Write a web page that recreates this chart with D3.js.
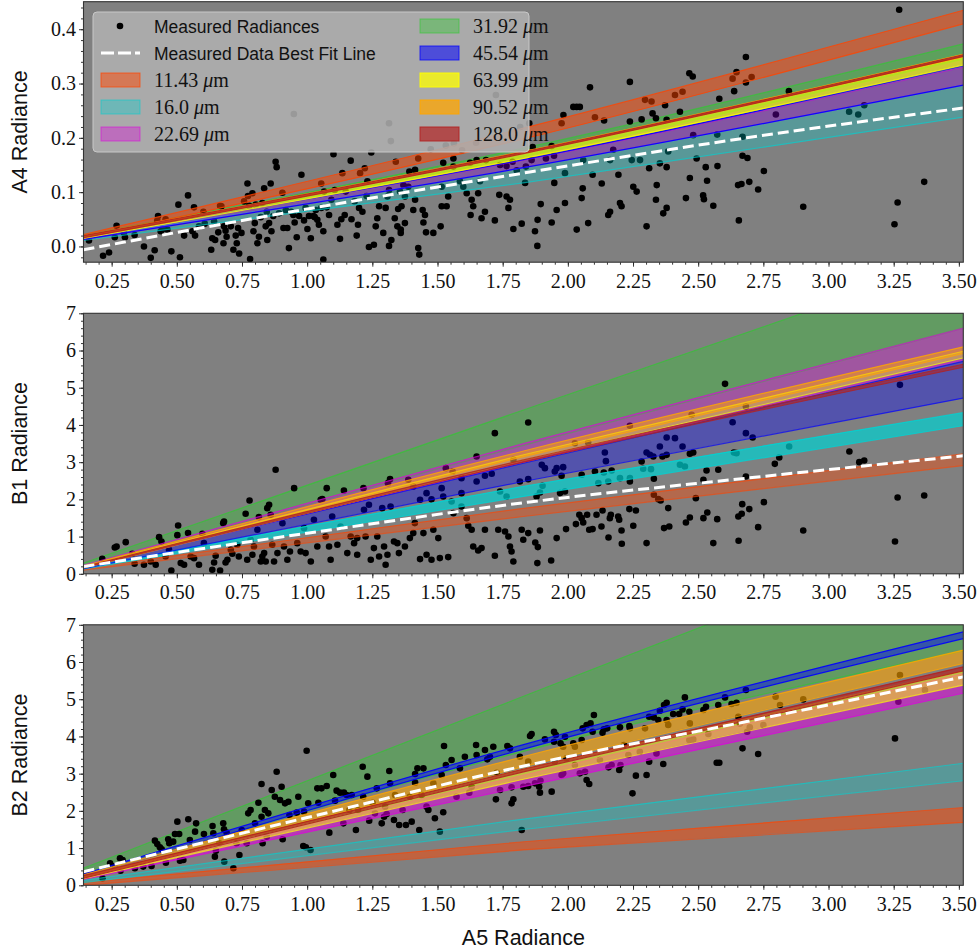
<!DOCTYPE html>
<html>
<head>
<meta charset="utf-8">
<script src="https://cdn.jsdelivr.net/npm/d3@7"></script>
<style>
  body { margin: 0; background: #fff; }
</style>
</head>
<body>
<div id="chart"></div>
<script>
'use strict';

// ---------------- data ----------------
var wavelengths = ['11.43', '16.0', '22.69', '31.92', '45.54', '63.99', '90.52', '128.0'];

// x (A5 radiance) at which the band edges were read: left limit, middle, right limit
var bandX = [0.142, 1.83, 3.517];
// each band: [[lo, hi] at bandX[0], [lo, hi] at bandX[1], [lo, hi] at bandX[2]]
var a4Bands = [
  [[0.016, 0.022], [0.198, 0.218], [0.410, 0.435]],
  [[0.011, 0.016], [0.117, 0.145], [0.238, 0.297]],
  [[0.013, 0.018], [0.145, 0.159], [0.297, 0.330]],
  [[0.016, 0.021], [0.166, 0.181], [0.345, 0.373]],
  [[0.013, 0.018], [0.145, 0.160], [0.297, 0.333]],
  [[0.015, 0.019], [0.162, 0.172], [0.334, 0.349]],
  [[0.016, 0.020], [0.172, 0.175], [0.349, 0.354]],
  [[0.016, 0.020], [0.171, 0.174], [0.350, 0.353]]
];
var b1Bands = [
  [[0.10, 0.15], [1.54, 1.76], [2.91, 3.22]],
  [[0.13, 0.17], [2.08, 2.35], [3.98, 4.33]],
  [[0.17, 0.23], [3.00, 3.50], [5.75, 6.60]],
  [[0.20, 0.29], [3.45, 4.40], [6.60, 8.50]],
  [[0.14, 0.20], [2.48, 2.97], [4.72, 5.71]],
  [[0.16, 0.20], [3.05, 3.20], [5.80, 5.98]],
  [[0.17, 0.21], [3.15, 3.30], [5.92, 6.10]],
  [[0.16, 0.19], [3.00, 3.06], [5.55, 5.63]]
];
var b2Bands = [
  [[0.00, 0.07], [0.95, 1.17], [1.69, 2.09]],
  [[0.07, 0.13], [1.50, 1.78], [2.81, 3.28]],
  [[0.16, 0.22], [2.65, 2.96], [5.16, 5.69]],
  [[0.20, 0.46], [3.60, 5.08], [6.30, 9.69]],
  [[0.20, 0.30], [3.66, 3.78], [6.63, 6.81]],
  [[0.18, 0.24], [2.85, 3.12], [5.38, 5.76]],
  [[0.20, 0.28], [3.19, 3.46], [5.96, 6.32]],
  [[0.19, 0.26], [3.05, 3.12], [5.76, 5.87]]
];

// measured data best fit line, read at these x
var fitX = [0.142, 1.0, 1.854, 2.686, 3.517];
var a4Fit = [-0.006, 0.069, 0.137, 0.200, 0.255];
var b1Fit = [0.196, 1.09, 1.93, 2.57, 3.17];
var b2Fit = [0.365, 1.82, 3.24, 4.40, 5.60];

// measured radiances [A5, A4]
var a4Points = [
  [0.163,0.011],[0.217,-0.017],[0.240,-0.011],[0.269,0.038],[0.262,0.017],[0.297,0.025],[0.301,0.017],[0.338,0.021],
  [0.374,0.000],[0.400,-0.021],[0.415,-0.007],[0.428,0.056],[0.425,0.048],[0.457,0.050],[0.444,0.031],[0.438,0.028],
  [0.464,0.031],[0.479,-0.009],[0.506,0.077],[0.512,-0.020],[0.528,0.020],[0.543,0.094],[0.560,0.028],[0.566,0.072],
  [0.570,0.020],[0.585,0.037],[0.602,0.064],[0.607,0.042],[0.632,-0.006],[0.636,0.015],[0.643,0.046],[0.647,0.012],
  [0.659,0.026],[0.666,0.075],[0.671,0.074],[0.681,0.037],[0.679,0.006],[0.687,0.029],[0.691,0.018],[0.707,0.037],
  [0.717,-0.006],[0.726,0.020],[0.730,0.006],[0.735,0.034],[0.739,-0.013],[0.748,0.025],[0.758,0.083],[0.771,0.116],
  [0.773,0.093],[0.778,0.075],[0.781,-0.023],[0.790,0.098],[0.794,0.028],[0.799,0.043],[0.803,0.077],[0.809,0.006],
  [0.815,0.018],[0.822,0.054],[0.828,0.080],[0.835,0.107],[0.841,0.037],[0.845,0.064],[0.847,0.012],[0.854,0.043],
  [0.860,0.116],[0.863,0.028],[0.870,0.056],[0.879,0.156],[0.883,0.146],[0.892,0.061],[0.905,0.099],[0.909,0.034],
  [0.918,0.067],[0.924,0.034],[0.930,-0.003],[0.939,0.064],[0.947,0.058],[0.952,0.044],[0.960,0.017],[0.969,0.056],
  [0.978,0.132],[0.988,0.048],[0.994,0.071],[1.001,0.032],[1.007,0.056],[1.014,0.015],[1.024,0.056],[1.029,0.054],
  [1.033,0.067],[1.039,0.049],[1.045,0.040],[1.054,0.116],[1.054,0.071],[1.062,-0.024],[1.062,0.028],[1.065,0.101],
  [1.075,0.072],[1.084,0.058],[1.093,0.086],[1.101,0.170],[1.106,0.104],[1.116,0.040],[1.126,0.014],[1.131,0.050],
  [1.135,0.135],[1.144,0.058],[1.148,0.101],[1.167,0.158],[1.170,0.050],[1.182,0.083],[1.190,0.020],[1.195,0.040],
  [1.199,0.071],[1.203,0.135],[1.212,0.064],[1.221,0.144],[1.228,0.093],[1.231,0.120],[1.237,-0.001],[1.246,0.173],
  [1.256,0.003],[1.263,0.037],[1.269,0.052],[1.276,0.074],[1.292,0.025],[1.301,0.071],[1.308,0.092],[1.314,0.104],
  [1.314,0.001],[1.323,0.012],[1.336,0.052],[1.340,0.156],[1.346,0.037],[1.349,0.069],[1.356,0.101],[1.359,0.025],
  [0.949,0.244],[1.314,0.227],[1.321,0.194],[1.648,0.191],[1.817,0.220],
  [1.426,0.162],[1.392,0.138],[1.414,0.141],[1.369,0.113],[1.388,0.110],[1.375,0.092],[1.362,0.074],[1.414,0.086],
  [1.407,0.067],[1.443,0.067],[1.452,0.058],[1.446,0.044],[1.375,0.043],[1.359,0.031],[1.456,0.026],[1.484,0.025],
  [1.512,0.037],[1.426,-0.003],[1.430,-0.015],[1.522,0.154],[1.561,0.162],[1.561,0.147],[1.625,0.154],[1.650,0.159],
  [1.686,0.159],[1.740,0.150],[1.765,0.148],[1.788,0.156],[1.804,0.140],[1.836,0.117],[1.839,0.147],[1.861,0.159],
  [1.916,0.162],[1.947,0.167],[1.976,0.227],[1.983,0.242],[1.989,0.135],[2.021,0.257],[2.034,0.257],[2.046,0.257],
  [2.059,0.159],[2.085,0.293],[2.104,0.238],[2.139,0.232],[2.162,0.159],[2.174,0.178],[2.194,0.132],[2.238,0.303],
  [2.238,0.230],[2.245,0.159],[2.277,0.159],[2.283,0.234],[2.296,0.270],[2.321,0.267],[2.325,0.245],[2.338,0.236],
  [2.373,0.260],[2.379,0.233],[2.385,0.175],[2.411,0.279],[2.440,0.285],[2.466,0.319],[2.479,0.313],[2.430,0.248],
  [2.481,0.205],[2.494,0.162],[2.468,0.126],[2.453,0.089],[2.379,0.146],[2.353,0.153],[2.312,0.144],[2.341,0.113],
  [2.338,0.086],[2.379,0.071],[2.366,0.061],[2.302,0.037],[2.264,0.101],[2.251,0.110],[2.200,0.080],[2.206,0.074],
  [2.162,0.064],[2.155,0.058],[2.130,0.116],[2.095,0.132],[2.078,0.043],[2.057,0.107],[2.053,0.089],[2.034,0.031],
  [1.989,0.080],[1.957,0.067],[1.948,0.117],[1.938,0.044],[1.896,0.078],[1.884,0.049],[1.874,0.028],[1.883,0.001],
  [1.823,0.042],[1.791,0.032],[1.778,0.086],[1.772,0.071],[1.765,0.092],[1.737,0.095],[1.720,0.048],[1.682,0.064],
  [1.669,0.052],[1.663,0.120],[1.656,0.098],[1.637,0.074],[1.631,0.086],[1.627,0.058],[1.612,0.098],[1.599,0.110],
  [1.586,0.120],[1.541,0.092],[1.535,0.074],[1.516,0.074],[1.516,0.110],
  [1.474,0.179],[1.532,0.186],[1.563,0.190],[1.594,0.177],[1.724,0.279],[1.852,0.227],[1.865,0.183],[1.938,0.185],
  [3.271,0.436],[2.683,0.349],[2.647,0.321],[2.632,0.309],[2.683,0.302],[2.705,0.312],[2.638,0.286],[2.581,0.272],
  [2.848,0.286],[2.798,0.243],[2.573,0.206],[2.670,0.202],[2.670,0.167],[2.689,0.163],[2.529,0.146],[2.574,0.148],
  [2.534,0.121],[2.752,0.139],[2.653,0.113],[2.666,0.115],[2.696,0.119],[2.730,0.105],[2.519,0.094],[2.522,0.087],
  [2.558,0.075],[2.656,0.048],[2.903,0.073],[3.079,0.248],[3.114,0.243],[3.137,0.260],[3.367,0.119],[3.265,0.081],
  [3.253,0.041]
];

// measured radiances [A5, B1]
var b1Points = [
  [0.214,0.403],[0.262,0.708],[0.269,0.735],[0.304,0.851],[0.329,0.538],[0.338,0.269],[0.374,0.242],[0.400,0.332],
  [0.419,0.242],[0.432,0.985],[0.441,0.869],[0.457,0.466],[0.470,0.645],[0.479,0.090],[0.505,1.299],[0.502,1.039],
  [0.515,0.287],[0.528,0.242],[0.543,1.093],[0.553,0.466],[0.566,0.421],[0.585,0.242],[0.598,1.075],[0.604,0.824],
  [0.636,0.108],[0.643,0.305],[0.649,0.484],[0.666,0.090],[0.678,1.361],[0.681,1.406],[0.687,0.305],[0.694,0.377],
  [0.707,0.645],[0.713,0.538],[0.732,0.779],[0.738,0.466],[0.764,1.612],[0.770,0.377],[0.779,1.970],[0.783,0.914],
  [0.790,0.511],[0.796,0.735],[0.809,1.182],[0.815,1.523],[0.822,0.332],[0.828,0.466],[0.835,0.556],[0.841,0.332],
  [0.847,1.764],[0.854,1.854],[0.860,1.585],[0.866,0.779],[0.873,0.332],[0.879,2.794],[0.886,0.556],[0.905,1.361],
  [0.911,0.735],[0.924,0.377],[0.934,0.600],[0.950,2.301],[0.962,0.824],[0.975,0.600],[0.988,1.227],[0.994,0.556],
  [1.014,0.332],[1.026,1.451],[1.039,0.735],[1.052,1.988],[1.058,2.006],[1.071,1.003],[1.075,2.301],[1.084,0.735],
  [1.090,0.377],[1.096,1.540],[1.116,0.779],[1.128,1.272],[1.141,2.239],[1.154,0.556],[1.167,1.003],[1.180,0.824],
  [1.192,0.511],[1.192,0.959],[1.216,2.301],[1.218,1.720],[1.224,1.003],[1.237,1.854],[1.244,0.377],[1.256,0.690],
  [1.269,1.003],[1.276,0.466],[1.288,1.764],[1.295,0.735],[1.301,0.242],[1.308,0.511],[1.310,2.436],[1.318,2.543],
  [1.320,1.809],[1.333,0.869],[1.346,0.824],[1.352,0.556],
  [1.532,2.839],[1.558,2.749],[1.592,2.570],[1.592,2.167],[1.650,3.152],[1.650,2.481],[1.682,2.633],[1.708,2.687],
  [1.720,3.779],[1.740,2.212],[1.765,2.078],[1.791,3.063],[1.816,2.481],[1.848,2.544],[1.848,4.065],[1.388,2.526],
  [1.407,2.347],[1.433,1.989],[1.458,2.167],[1.477,2.000],[1.516,2.302],[1.522,2.078],[1.554,1.944],[1.561,1.630],
  [1.592,1.810],[1.612,1.496],[1.618,1.290],[1.631,1.183],[1.637,0.735],[1.656,0.628],[1.669,0.690],[1.682,1.183],
  [1.720,0.484],[1.733,1.183],[1.759,1.138],[1.772,1.004],[1.778,0.735],[1.784,0.601],[1.791,0.332],[1.823,1.183],
  [1.829,0.914],[1.848,1.093],[1.484,1.183],[1.503,0.959],[1.477,0.377],[1.509,0.422],[1.541,0.449],[1.458,0.511],
  [1.433,0.395],[1.407,1.093],[1.413,1.362],[1.446,1.093],[1.375,0.735],[1.394,0.959],
  [2.603,5.104],[3.274,5.077],[2.238,3.976],[2.475,4.271],[2.683,4.495],[2.632,4.074],[2.683,3.779],[2.709,3.663],
  [2.849,3.421],[3.080,3.287],[3.118,3.000],[3.137,3.045],[2.142,3.260],[2.146,3.027],[2.027,3.510],[2.078,3.528],
  [2.302,3.260],[2.379,3.663],[2.411,3.645],[2.353,3.421],[2.363,3.152],[2.379,3.197],[2.440,3.421],[2.468,3.224],
  [2.481,3.260],[2.315,3.197],[2.328,3.152],[2.283,3.018],[2.289,2.821],[2.319,2.812],[2.330,2.553],[2.430,2.929],
  [2.449,2.884],[2.532,2.776],[2.577,2.794],[2.520,2.526],[2.637,3.260],[2.647,3.242],[2.683,2.615],[2.794,2.955],
  [2.811,3.125],[1.900,2.928],[1.912,2.839],[1.950,2.749],[1.957,2.839],[1.982,2.866],[1.976,2.633],[2.053,2.660],
  [2.104,2.749],[2.138,2.722],[2.168,2.776],[2.200,2.570],[2.238,2.481],[2.238,2.570],[2.155,2.481],[2.117,2.436],
  [1.989,2.212],[1.893,2.185],[1.880,2.078],[1.970,2.168],[1.903,2.364],
  [1.893,1.165],[1.957,0.959],[1.993,1.201],[2.031,1.335],[2.044,1.586],[2.053,1.496],[2.059,1.380],[2.074,1.586],
  [2.082,1.183],[2.095,1.201],[2.110,1.586],[2.129,1.272],[2.133,1.702],[2.156,0.977],[2.161,1.496],[2.165,1.586],
  [2.193,1.541],[2.197,1.451],[2.206,1.165],[2.207,0.807],[2.236,1.738],[2.251,1.290],[2.261,1.702],[2.302,0.825],
  [2.330,2.123],[2.347,2.006],[2.356,1.971],[2.369,1.228],[2.385,1.765],[2.389,1.272],[2.453,1.380],[2.468,1.514],
  [2.491,2.033],[2.520,1.496],[2.535,1.648],[2.558,0.825],[2.573,1.469],[2.654,1.541],[2.667,1.612],[2.669,1.872],
  [2.655,0.887],[2.696,1.738],[2.730,1.254],[2.752,1.926],[2.903,1.165],[3.255,0.869],[3.265,2.051],[3.367,2.105],
  [1.875,0.843],[1.885,0.717],[1.883,0.288],[1.936,0.359]
];

// measured radiances [A5, B2]
var b2Points = [
  [0.154,0.260],[0.215,0.188],[0.244,0.591],[0.263,0.519],[0.282,0.725],[0.292,0.681],[0.284,0.394],[0.339,0.457],
  [0.371,0.502],[0.403,0.519],[0.416,1.200],[0.425,1.110],[0.435,1.021],[0.442,0.967],[0.458,0.609],[0.467,1.236],
  [0.471,1.128],[0.486,1.173],[0.493,1.379],[0.502,1.710],[0.509,1.379],[0.512,0.663],[0.525,0.681],[0.544,1.773],
  [0.550,1.218],[0.570,1.441],[0.574,1.665],[0.604,1.379],[0.637,1.594],[0.640,1.397],[0.646,0.770],[0.650,0.931],
  [0.663,1.128],[0.678,1.665],[0.681,1.504],[0.682,0.636],[0.691,1.415],[0.717,0.457],[0.729,1.128],[0.740,0.815],
  [0.749,1.486],[0.768,1.128],[0.774,1.934],[0.783,2.024],[0.800,1.665],[0.813,2.220],[0.825,1.844],[0.825,2.722],
  [0.829,1.128],[0.838,2.024],[0.845,1.307],[0.851,1.934],[0.864,2.561],[0.876,2.381],[0.883,3.053],[0.896,2.292],
  [0.902,2.650],[0.906,1.236],[0.915,2.202],[0.928,2.247],[0.932,1.889],[0.960,1.952],[0.966,2.381],[0.988,1.979],
  [0.998,3.617],[1.004,2.202],[0.985,1.057],[0.995,1.021],[1.013,0.949],[1.039,2.605],[1.043,2.220],[1.055,2.605],
  [1.075,2.668],[1.085,1.415],[1.100,2.964],[1.107,2.274],[1.113,2.543],[1.126,2.489],[1.139,1.665],[1.141,2.489],
  [1.151,2.426],[1.162,2.024],[1.171,2.426],[1.187,1.486],[1.196,2.024],[1.213,3.187],[1.215,2.381],[1.231,2.919],
  [1.238,1.737],[1.251,2.220],[1.260,1.934],[1.267,2.605],[1.286,1.665],[1.295,1.844],[1.299,2.113],[1.305,1.916],
  [1.315,3.071],[1.318,2.740],[1.333,1.755],[1.337,2.426],[1.353,1.621],[1.366,2.024],[1.379,1.621],[1.394,2.381],
  [1.401,1.710],[1.414,2.990],[1.414,2.758],[1.423,3.143],[1.430,1.486],[1.439,2.426],[1.446,3.143],[1.458,2.113],
  [1.465,2.024],[1.484,2.740],[1.490,1.800],[1.509,1.441],[1.516,2.964],[1.522,1.961],[1.525,3.742],[1.532,3.232],
  [1.554,3.366],[1.573,2.381],[1.586,3.143],[1.605,3.456],[1.622,2.489],[1.631,2.650],[1.648,3.769],[1.650,3.501],
  [1.682,3.635],[1.691,3.384],[1.701,3.456],[1.714,3.724],[1.724,2.310],[1.727,3.026],[1.740,2.561],[1.768,3.742],
  [1.778,3.680],[1.784,2.632],[1.784,2.202],[1.791,2.310],[1.816,3.456],[1.823,1.486],[1.829,2.650],[1.848,2.668],
  [1.855,4.011],[1.848,3.322],
  [1.861,4.065],[1.890,2.650],[1.893,2.489],[1.874,2.740],[1.895,2.811],[1.912,3.921],[1.947,4.127],[1.954,4.038],
  [1.947,3.859],[1.972,3.814],[1.982,3.724],[1.989,3.993],[1.976,2.964],[1.982,3.008],[2.021,3.814],[2.027,3.724],
  [2.046,3.008],[2.053,3.903],[2.057,4.217],[2.072,4.306],[2.087,4.351],[2.100,4.575],[2.072,2.829],[2.082,2.722],
  [2.066,3.053],[2.095,4.127],[2.133,4.101],[2.138,4.190],[2.151,4.217],[2.156,3.169],[2.168,3.232],[2.200,4.244],
  [2.197,3.098],[2.202,3.232],[2.236,4.280],[2.238,4.217],[2.248,2.471],[2.261,2.946],[2.302,2.964],[2.312,3.322],
  [2.312,4.530],[2.330,4.512],[2.347,4.441],[2.353,4.691],[2.366,3.259],[2.369,4.844],[2.379,4.906],[2.379,4.441],
  [2.404,4.602],[2.427,4.602],[2.440,4.727],[2.449,5.049],[2.466,4.664],[2.520,4.709],[2.530,4.799],[2.577,4.844],
  [2.603,5.049],[2.628,4.870],[2.647,4.906],[2.670,3.680],[2.683,5.246],[2.730,3.528],[3.255,3.948],[3.274,5.649],
  [3.370,5.246],[3.268,4.933],[2.903,4.996],[2.797,5.067],[2.814,4.844],[2.750,4.306],[2.698,4.244],[2.688,4.127],
  [2.571,3.295],[2.581,3.295],[2.466,3.903],[2.481,3.921],[2.340,3.545],[2.276,3.590],[2.027,3.232],[2.123,3.366],
  [2.215,3.769],[2.296,4.217],[2.385,4.306],[2.468,4.351],[2.539,4.065],[2.654,4.530],[2.660,4.351],[2.232,3.501],
  [1.950,3.322],[1.995,3.411],[1.938,2.516]
];

var xTicks = d3.range(0.25, 3.51, 0.25);
var a4Ticks = [0.0, 0.1, 0.2, 0.3, 0.4];
var bTicks = [0, 1, 2, 3, 4, 5, 6, 7];

// ---------------- style ----------------
var waveColors = ['#ff4500', '#00d2d2', '#e000e0', '#32c832', '#0000ff', '#ffff00', '#ffa500', '#b22222'];
var legendAlpha = [0.5, 0.35, 0.35, 0.4, 0.55, 0.75, 0.75, 0.7];
var underPoints = [false, false, false, true, false, false, false, false]; // green sits below the dots
var serif = '"Liberation Serif", "DejaVu Serif", serif';
var sans = '"Liberation Sans", Arial, sans-serif';

var width = 979, height = 952;
var plotLeft = 83.5, plotRight = 963.3, plotH = 260.5;

var panels = [
  { name: 'A4 Radiance', top: 1.7, yDomain: [-0.029, 0.4507], bands: a4Bands, fit: a4Fit, points: a4Points,
    ticks: a4Ticks, minor: d3.range(-0.02, 0.441, 0.02), fmt: d3.format('.1f'),
    alpha: [0.5, 0.3, 0.24, 0.45, 0.12, 0.6, 0.6, 0.7],
    edge:  [0.8, 0.6, 0.6, 0.7, 0.9, 0.8, 0.9, 0.9] },
  { name: 'B1 Radiance', top: 313.3, yDomain: [0, 7], bands: b1Bands, fit: b1Fit, points: b1Points,
    ticks: bTicks, minor: d3.range(0, 7.01, 0.2), fmt: d3.format('d'),
    alpha: [0.4, 0.7, 0.33, 0.38, 0.35, 0.35, 0.5, 0.6],
    edge:  [0.6, 0.8, 0.6, 0.7, 0.7, 0.7, 0.8, 0.8] },
  { name: 'B2 Radiance', top: 624.8, yDomain: [0, 7], bands: b2Bands, fit: b2Fit, points: b2Points,
    ticks: bTicks, minor: d3.range(0, 7.01, 0.2), fmt: d3.format('d'),
    alpha: [0.5, 0.3, 0.55, 0.38, 0.45, 0.5, 0.6, 0.7],
    edge:  [0.6, 0.6, 0.7, 0.7, 0.9, 0.7, 0.8, 0.9] }
];

var svg = d3.select('#chart').append('svg')
  .attr('width', width)
  .attr('height', height)
  .style('display', 'block');

var x = d3.scaleLinear().domain([0.142, 3.517]).range([0, plotRight - plotLeft]);
var xMinor = d3.range(0.15, 3.51, 0.05);

panels.forEach(function (p, pi) {
  var y = d3.scaleLinear().domain(p.yDomain).range([plotH, 0]);
  var g = svg.append('g').attr('transform', 'translate(' + plotLeft + ',' + p.top + ')');

  g.append('rect')
    .attr('width', x.range()[1])
    .attr('height', plotH)
    .attr('fill', '#808080');

  var clipId = 'clip' + pi;
  g.append('clipPath').attr('id', clipId)
    .append('rect').attr('width', x.range()[1]).attr('height', plotH);

  var plot = g.append('g').attr('clip-path', 'url(#' + clipId + ')');

  var area = d3.area()
    .x(function (d, i) { return x(bandX[i]); })
    .y0(function (d) { return y(d[0]); })
    .y1(function (d) { return y(d[1]); })
    .curve(d3.curveMonotoneX);
  var edge = function (k) {
    return d3.line()
      .x(function (d, i) { return x(bandX[i]); })
      .y(function (d) { return y(d[k]); })
      .curve(d3.curveMonotoneX);
  };
  var drawBand = function (b, i) {
    plot.append('path')
      .attr('d', area(b))
      .attr('fill', waveColors[i])
      .attr('fill-opacity', p.alpha[i]);
    [0, 1].forEach(function (k) {
      plot.append('path')
        .attr('d', edge(k)(b))
        .attr('fill', 'none')
        .attr('stroke', waveColors[i])
        .attr('stroke-opacity', p.edge[i])
        .attr('stroke-width', 1.2);
    });
  };

  p.bands.forEach(function (b, i) { if (underPoints[i]) drawBand(b, i); });

  plot.append('g').selectAll('circle')
    .data(p.points)
    .enter().append('circle')
    .attr('cx', function (d) { return x(d[0]); })
    .attr('cy', function (d) { return y(d[1]); })
    .attr('r', 3.3)
    .attr('fill', '#000');

  p.bands.forEach(function (b, i) { if (!underPoints[i]) drawBand(b, i); });

  plot.append('path')
    .attr('d', d3.line()
      .x(function (d, i) { return x(fitX[i]); })
      .y(function (d) { return y(d); })
      .curve(d3.curveMonotoneX)(p.fit))
    .attr('fill', 'none')
    .attr('stroke', '#fff')
    .attr('stroke-width', 3)
    .attr('stroke-dasharray', '11,5');

  // axes
  g.append('g').attr('transform', 'translate(0,' + plotH + ')')
    .call(d3.axisBottom(x).tickValues(xTicks).tickFormat(d3.format('.2f')).tickSize(4.5).tickPadding(7));
  g.append('g').attr('transform', 'translate(0,' + plotH + ')')
    .call(d3.axisBottom(x).tickValues(xMinor).tickFormat('').tickSize(2.5));
  g.append('g')
    .call(d3.axisLeft(y).tickValues(p.ticks).tickFormat(p.fmt).tickSize(4.5).tickPadding(3));
  g.append('g')
    .call(d3.axisLeft(y).tickValues(p.minor).tickFormat('').tickSize(2.5));

  g.selectAll('.domain').remove();
  g.selectAll('.tick line').attr('stroke', '#222').attr('stroke-width', 0.9);
  g.selectAll('.tick text')
    .attr('fill', '#111')
    .style('font-family', serif)
    .style('font-size', '20px');

  g.append('rect')
    .attr('width', x.range()[1])
    .attr('height', plotH)
    .attr('fill', 'none')
    .attr('stroke', '#333')
    .attr('stroke-width', 1.1);

  svg.append('text')
    .attr('transform', 'translate(27,' + (p.top + plotH / 2) + ') rotate(-90)')
    .attr('text-anchor', 'middle')
    .style('font-family', sans)
    .style('font-size', '21.5px')
    .attr('fill', '#111')
    .text(p.name);
});

svg.append('text')
  .attr('x', (plotLeft + plotRight) / 2)
  .attr('y', 945)
  .attr('text-anchor', 'middle')
  .style('font-family', sans)
  .style('font-size', '21.5px')
  .attr('fill', '#111')
  .text('A5 Radiance');

// ---------------- legend ----------------
var legend = svg.append('g').attr('transform', 'translate(93,12)');
legend.append('rect')
  .attr('width', 436)
  .attr('height', 140)
  .attr('rx', 4)
  .attr('fill', 'rgb(176,176,176)')
  .attr('fill-opacity', 0.87)
  .attr('stroke', '#c8c8c8')
  .attr('stroke-width', 1);

var rowY = function (r) { return 14 + r * 27; };

legend.append('circle').attr('cx', 27).attr('cy', rowY(0)).attr('r', 3.3).attr('fill', '#000');
legend.append('line')
  .attr('x1', 8).attr('x2', 47).attr('y1', rowY(1)).attr('y2', rowY(1))
  .attr('stroke', '#fff').attr('stroke-width', 3).attr('stroke-dasharray', '13,4');

[['Measured Radiances', 0], ['Measured Data Best Fit Line', 1]].forEach(function (t) {
  legend.append('text')
    .attr('x', 61).attr('y', rowY(t[1]) + 6.5)
    .style('font-family', sans)
    .style('font-size', '17.5px')
    .attr('fill', '#111')
    .text(t[0]);
});

wavelengths.forEach(function (w, i) {
  var slot = i + 2;
  var col = slot < 5 ? 0 : 1;
  var row = slot < 5 ? slot : slot - 5;
  var sx = col === 0 ? 8 : 327;
  var item = legend.append('g').attr('transform', 'translate(' + sx + ',' + rowY(row) + ')');
  item.append('rect')
    .attr('x', 0).attr('y', -7)
    .attr('width', 39).attr('height', 14)
    .attr('fill', waveColors[i])
    .attr('fill-opacity', legendAlpha[i])
    .attr('stroke', waveColors[i])
    .attr('stroke-opacity', Math.min(1, legendAlpha[i] + 0.2))
    .attr('stroke-width', 1);
  var t = item.append('text')
    .attr('x', 53).attr('y', 7)
    .style('font-family', serif)
    .style('font-size', '20px')
    .attr('fill', '#111');
  t.append('tspan').text(w + ' ');
  t.append('tspan').style('font-style', 'italic').text('\u03bc');
  t.append('tspan').text('m');
});
</script>
</body>
</html>
